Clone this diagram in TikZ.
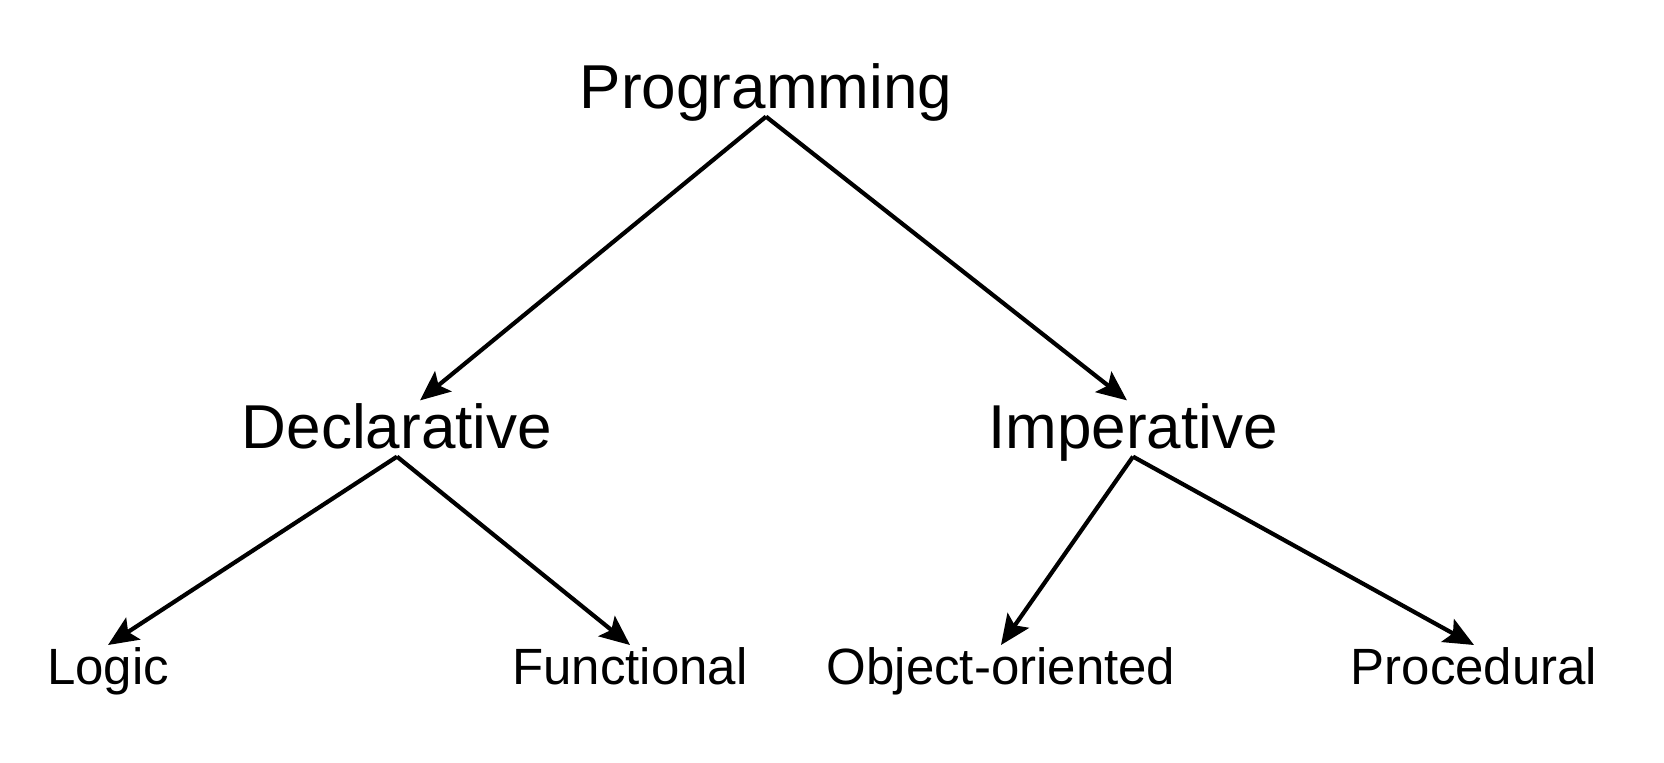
\documentclass[tikz,border=0pt]{standalone}
\usepackage{fontspec}
\setmainfont{Liberation Sans}
\usetikzlibrary{arrows.meta}

\begin{document}
\begin{tikzpicture}[
        node distance=170pt,
        top/.style={inner sep=1pt, text height=22.6pt, text depth=3.1pt, font=\fontsize{31}{37}\selectfont},
        leaf/.style={inner sep=1pt, text height=18.6pt, text depth=2.5pt, font=\fontsize{25.5}{30}\selectfont},
        arrow/.style={-{Stealth[length=15pt, width=13pt, inset=3pt]}, line width=2.1pt, black}
    ]
        \useasboundingbox (0,0) rectangle (832pt,-381pt);

        % Root
        \node[top] (programming) at (383pt,-44.25pt) {Programming};

        % Paradigms
        \node[top, below of=programming, xshift=-184.5pt] (declarative) {Declarative};
        \node[top, below of=programming, xshift=183.5pt] (imperative) {Imperative};

        % Leaves
        \node[leaf, below of=declarative, yshift=50pt, xshift=-144.5pt] (logic) {Logic};
        \node[leaf, below of=declarative, yshift=50pt, xshift=116.5pt] (functional) {Functional};
        \node[leaf, below of=imperative, yshift=50pt, xshift=-66pt] (object) {Object-oriented};
        \node[leaf, below of=imperative, yshift=50pt, xshift=170.5pt] (procedural) {Procedural};

        % Arrows
        \draw[arrow] (programming.south) -- ([xshift=11.5pt]declarative.north);
        \draw[arrow] (programming.south) -- ([xshift=-3pt]imperative.north);
        \draw[arrow] (declarative.south) -- (logic.north);
        \draw[arrow] (declarative.south) -- (functional.north);
        \draw[arrow] (imperative.south) -- (object.north);
        \draw[arrow] (imperative.south) -- (procedural.north);
    \end{tikzpicture}
\end{document}
